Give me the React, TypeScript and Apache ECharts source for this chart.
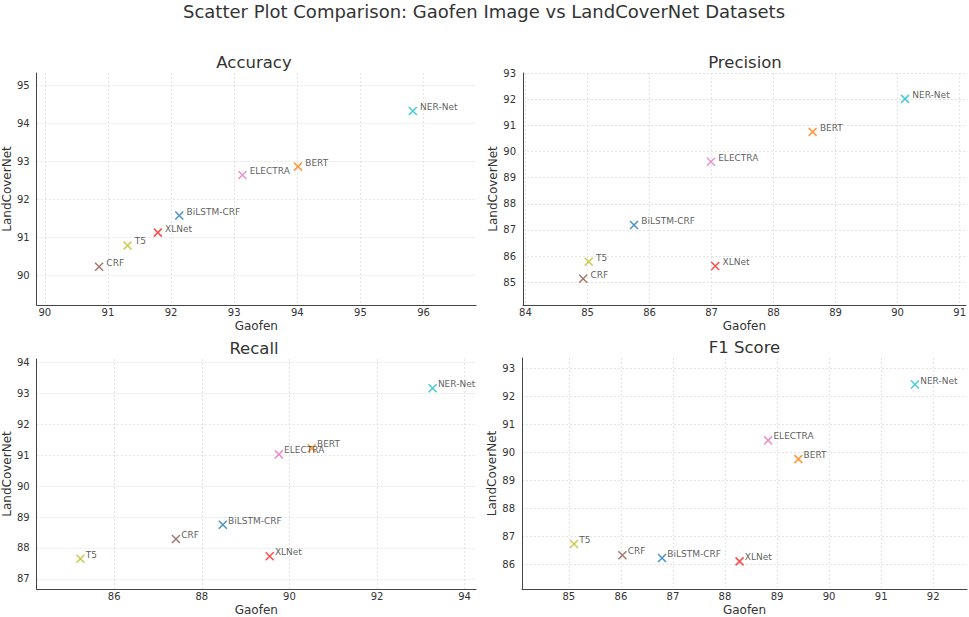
import React, { useEffect, useRef } from "react";
import * as echarts from "echarts";

const models = ["BERT", "BiLSTM-CRF", "CRF", "ELECTRA", "NER-Net", "T5", "XLNet"];

const accuracyGaofen = [94.01, 92.13, 90.86, 93.13, 95.83, 91.31, 91.79];
const accuracyLand = [92.86, 91.57, 90.22, 92.64, 94.33, 90.78, 91.12];

const precisionGaofen = [88.63, 85.75, 84.93, 86.99, 90.12, 85.02, 87.06];
const precisionLand = [90.75, 87.19, 85.13, 89.61, 92.01, 85.78, 85.62];

const recallGaofen = [90.51, 88.48, 87.41, 89.76, 93.27, 85.23, 89.55];
const recallLand = [91.23, 88.75, 88.29, 91.03, 93.17, 87.65, 87.73];

const f1Gaofen = [89.41, 86.79, 86.03, 88.83, 91.65, 85.10, 88.28];
const f1Land = [89.76, 86.22, 86.32, 90.43, 92.43, 86.72, 86.10];

const accuracyXTicks = [90, 91, 92, 93, 94, 95, 96];
const accuracyYTicks = [90, 91, 92, 93, 94, 95];
const precisionXTicks = [84, 85, 86, 87, 88, 89, 90, 91];
const precisionYTicks = [85, 86, 87, 88, 89, 90, 91, 92, 93];
const recallXTicks = [86, 88, 90, 92, 94];
const recallYTicks = [87, 88, 89, 90, 91, 92, 93, 94];
const f1XTicks = [85, 86, 87, 88, 89, 90, 91, 92];
const f1YTicks = [86, 87, 88, 89, 90, 91, 92, 93];

const palette: Record<string, string> = {
  BERT: "#ff7f0e",
  "BiLSTM-CRF": "#1f77b4",
  CRF: "#8c564b",
  ELECTRA: "#e377c2",
  "NER-Net": "#17becf",
  T5: "#bcbd22",
  XLNet: "#ff1f1f",
};

const FONT = "DejaVu Sans";
const TXT = "#333333";

type Panel = {
  title: string;
  xs: number[];
  ys: number[];
  xTicks: number[];
  yTicks: number[];
  xRange: [number, number];
  yRange: [number, number];
  grid: { left: number; top: number; width: number; height: number };
  labelDistance: number;
  labelOffset: [number, number];
};

const panels: Panel[] = [
  {
    title: "Accuracy",
    xs: accuracyGaofen,
    ys: accuracyLand,
    xTicks: accuracyXTicks,
    yTicks: accuracyYTicks,
    xRange: [89.87, 96.83],
    yRange: [89.21, 95.33],
    grid: { left: 32, top: 73, width: 444, height: 232 },
    labelDistance: 2.5,
    labelOffset: [0, -4],
  },
  {
    title: "Precision",
    xs: precisionGaofen,
    ys: precisionLand,
    xTicks: precisionXTicks,
    yTicks: precisionYTicks,
    xRange: [83.96, 91.1],
    yRange: [84.13, 93.0],
    grid: { left: 523, top: 73, width: 444, height: 232 },
    labelDistance: 2.5,
    labelOffset: [0, -4],
  },
  {
    title: "Recall",
    xs: recallGaofen,
    ys: recallLand,
    xTicks: recallXTicks,
    yTicks: recallYTicks,
    xRange: [84.23, 94.26],
    yRange: [86.67, 94.12],
    grid: { left: 32, top: 359, width: 444, height: 230 },
    labelDistance: 0.5,
    labelOffset: [0, -4],
  },
  {
    title: "F1 Score",
    xs: f1Gaofen,
    ys: f1Land,
    xTicks: f1XTicks,
    yTicks: f1YTicks,
    xRange: [84.1, 92.65],
    yRange: [85.11, 93.38],
    grid: { left: 522, top: 358, width: 445, height: 231 },
    labelDistance: 0.5,
    labelOffset: [0, -4],
  },
];

const X_SYMBOL = "path://M0,0L10,10M10,0L0,10";

export default function App() {
  const ref = useRef<HTMLDivElement>(null);

  useEffect(() => {
    if (!ref.current) return;
    const chart = echarts.init(ref.current, undefined, { renderer: "svg" });

    const titles: any[] = [
      {
        text: "Scatter Plot Comparison: Gaofen Image vs LandCoverNet Datasets",
        left: 484,
        top: 2,
        textAlign: "center",
        padding: 0,
        textStyle: { fontFamily: FONT, fontSize: 18, fontWeight: "normal", color: TXT },
      },
    ];
    const grids: any[] = [];
    const xAxes: any[] = [];
    const yAxes: any[] = [];
    const series: any[] = [];

    panels.forEach((p, i) => {
      titles.push({
        text: p.title,
        left: p.grid.left + p.grid.width / 2,
        top: p.grid.top - 19,
        textAlign: "center",
        padding: 0,
        textStyle: { fontFamily: FONT, fontSize: 16.5, fontWeight: "normal", color: TXT },
      });
      grids.push({ ...p.grid, containLabel: false });
      const split = {
        show: true,
        lineStyle: { color: "#dddddd", type: [2, 2], width: 0.8 },
      };
      xAxes.push({
        type: "value",
        gridIndex: i,
        min: p.xRange[0],
        max: p.xRange[1],
        name: "Gaofen",
        nameLocation: "middle",
        nameGap: 15,
        nameTextStyle: { fontFamily: FONT, fontSize: 12, color: TXT },
        axisLine: { show: true, lineStyle: { color: "#444444", width: 1 } },
        splitLine: split,
        axisTick: { show: false, customValues: p.xTicks },
        axisLabel: {
          customValues: p.xTicks,
          fontFamily: FONT,
          fontSize: 10,
          color: TXT,
          margin: 2,
          showMinLabel: true,
          showMaxLabel: true,
        },
      });
      yAxes.push({
        type: "value",
        gridIndex: i,
        min: p.yRange[0],
        max: p.yRange[1],
        name: "LandCoverNet",
        nameLocation: "middle",
        nameGap: 19,
        nameTextStyle: { fontFamily: FONT, fontSize: 12, color: TXT },
        axisLine: { show: true, lineStyle: { color: "#444444", width: 1 } },
        splitLine: split,
        axisTick: { show: false, customValues: p.yTicks },
        axisLabel: {
          customValues: p.yTicks,
          fontFamily: FONT,
          fontSize: 10,
          color: TXT,
          margin: 7,
          showMinLabel: true,
          showMaxLabel: true,
        },
      });
      series.push({
        type: "scatter",
        xAxisIndex: i,
        yAxisIndex: i,
        symbol: X_SYMBOL,
        symbolSize: 8,
        data: models.map((m, k) => ({
          name: m,
          value: [p.xs[k], p.ys[k]],
          itemStyle: { color: "transparent", borderColor: palette[m], borderWidth: 1.5 },
        })),
        label: {
          show: true,
          position: "right",
          distance: p.labelDistance,
          offset: p.labelOffset,
          formatter: (d: any) => d.name,
          fontFamily: FONT,
          fontSize: 9,
          color: TXT,
        },
      });
    });

    chart.setOption({
      animation: false,
      backgroundColor: "#ffffff",
      title: titles,
      grid: grids,
      xAxis: xAxes,
      yAxis: yAxes,
      series,
    });

    return () => chart.dispose();
  }, []);

  return (
    <div
      ref={ref}
      style={{ position: "fixed", left: 0, top: 0, width: 969, height: 617 }}
    />
  );
}
